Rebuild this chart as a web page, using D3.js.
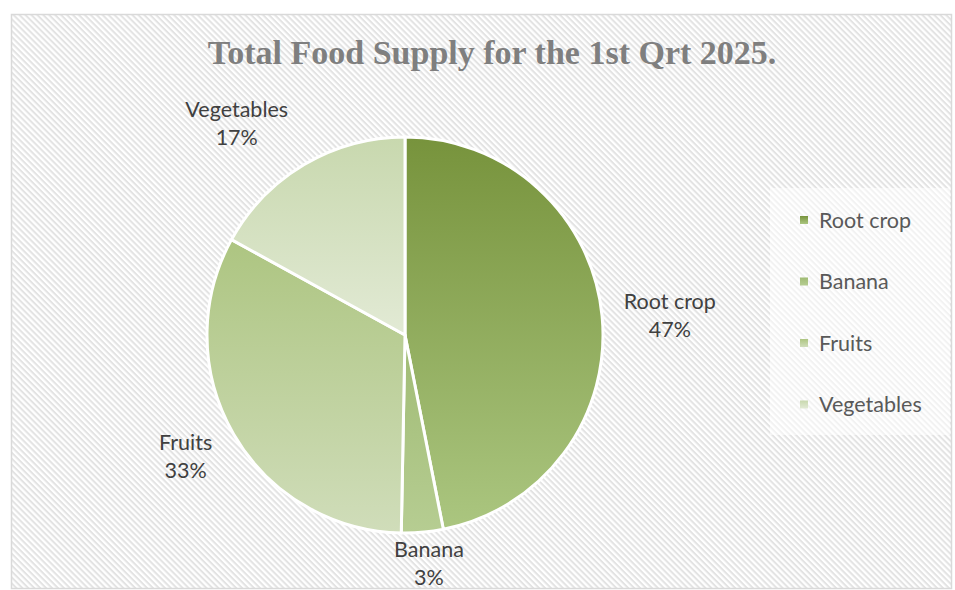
<!DOCTYPE html>
<html>
<head>
    <script src="https://d3js.org/d3.v7.min.js"></script>
    <style>
      body { margin: 0; background: #fff; }
    </style>
</head>
<body>
    <div id="chart"></div>
    <script>
    // data
    const categories = ["Root crop", "Banana", "Fruits", "Vegetables"];
    const values = [46.9, 3.4, 32.7, 17.0];
    const chartTitle = "Total Food Supply for the 1st Qrt 2025.";

    // top / bottom colours of each slice gradient
    const topColors = ["#77933c", "#a0bb74", "#adc581", "#c8d8ae"];
    const bottomColors = ["#abc680", "#b6cd92", "#d0ddba", "#e2ead5"];

    const width = 955, height = 590;
    const cx = 405, cy = 335, radius = 198;

    const svg = d3.select("#chart")
      .append("svg")
      .attr("width", width)
      .attr("height", height);

    const defs = svg.append("defs");

    // diagonal hatch background (downward diagonal)
    const hatch = defs.append("pattern")
      .attr("id", "hatch")
      .attr("patternUnits", "userSpaceOnUse")
      .attr("width", 4.2)
      .attr("height", 4.2)
      .attr("patternTransform", "rotate(45)");
    hatch.append("rect")
      .attr("width", 4.2).attr("height", 4.2).attr("fill", "#ffffff");
    hatch.append("rect")
      .attr("width", 4.2).attr("height", 2).attr("fill", "#e3e3e3");

    categories.forEach((c, i) => {
      const g = defs.append("linearGradient")
        .attr("id", "grad" + i)
        .attr("x1", 0).attr("y1", 0).attr("x2", 0).attr("y2", 1);
      g.append("stop").attr("offset", "0%").attr("stop-color", topColors[i]);
      g.append("stop").attr("offset", "100%").attr("stop-color", bottomColors[i]);
    });

    svg.append("rect")
      .attr("x", 11.5)
      .attr("y", 14.5)
      .attr("width", 940)
      .attr("height", 574)
      .attr("fill", "url(#hatch)")
      .attr("stroke", "#d9d9d9")
      .attr("stroke-width", 1.5);

    svg.append("text")
      .attr("x", 492)
      .attr("y", 64)
      .attr("text-anchor", "middle")
      .style("font-family", "'Liberation Serif', serif")
      .style("font-weight", "bold")
      .style("font-size", "34px")
      .attr("fill", "#7f7f7f")
      .text(chartTitle);

    const total = d3.sum(values);
    const pie = d3.pie().sort(null)(values);
    const arc = d3.arc().innerRadius(0).outerRadius(radius);

    const pieG = svg.append("g")
      .attr("transform", `translate(${cx},${cy})`);

    pieG.selectAll(".slice")
      .data(pie)
      .join("path")
      .attr("class", "slice")
      .attr("d", arc)
      .attr("fill", (d, i) => `url(#grad${i})`)
      .attr("stroke", "#ffffff")
      .attr("stroke-width", 3)
      .attr("stroke-linejoin", "round");

    // data labels, placed outside the pie (best-fit nudges)
    const labelArc = d3.arc().innerRadius(radius + 52).outerRadius(radius + 52);
    const labelOffsets = [[16, 5], [2, -20], [-3, -3], [-41, 4]];

    const labels = pieG.selectAll(".label")
      .data(pie)
      .join("text")
      .attr("class", "label")
      .attr("text-anchor", "middle")
      .style("font-family", "Lato, sans-serif")
      .style("font-size", "21.5px")
      .attr("fill", "#404040")
      .attr("transform", (d, i) => {
        const p = labelArc.centroid(d);
        return `translate(${p[0] + labelOffsets[i][0]},${p[1] + labelOffsets[i][1]})`;
      });

    labels.append("tspan")
      .attr("x", 0)
      .attr("y", -7)
      .text((d, i) => categories[i]);
    labels.append("tspan")
      .attr("x", 0)
      .attr("y", 21)
      .text(d => Math.round(d.value / total * 100) + "%");

    // legend
    const legend = svg.append("g")
      .attr("transform", "translate(770,188)");

    legend.append("rect")
      .attr("width", 180)
      .attr("height", 247)
      .attr("fill", "#ffffff")
      .attr("fill-opacity", 0.55);

    const items = legend.selectAll(".item")
      .data(categories)
      .join("g")
      .attr("class", "item")
      .attr("transform", (d, i) => `translate(30,${32 + i * 61.5})`);

    items.append("rect")
      .attr("x", 0)
      .attr("y", -4)
      .attr("width", 8)
      .attr("height", 8)
      .attr("fill", (d, i) => `url(#grad${i})`);

    items.append("text")
      .attr("x", 19)
      .attr("dy", "0.35em")
      .style("font-family", "Lato, sans-serif")
      .style("font-size", "21.5px")
      .attr("fill", "#595959")
      .text(d => d);
    </script>
</body>
</html>
